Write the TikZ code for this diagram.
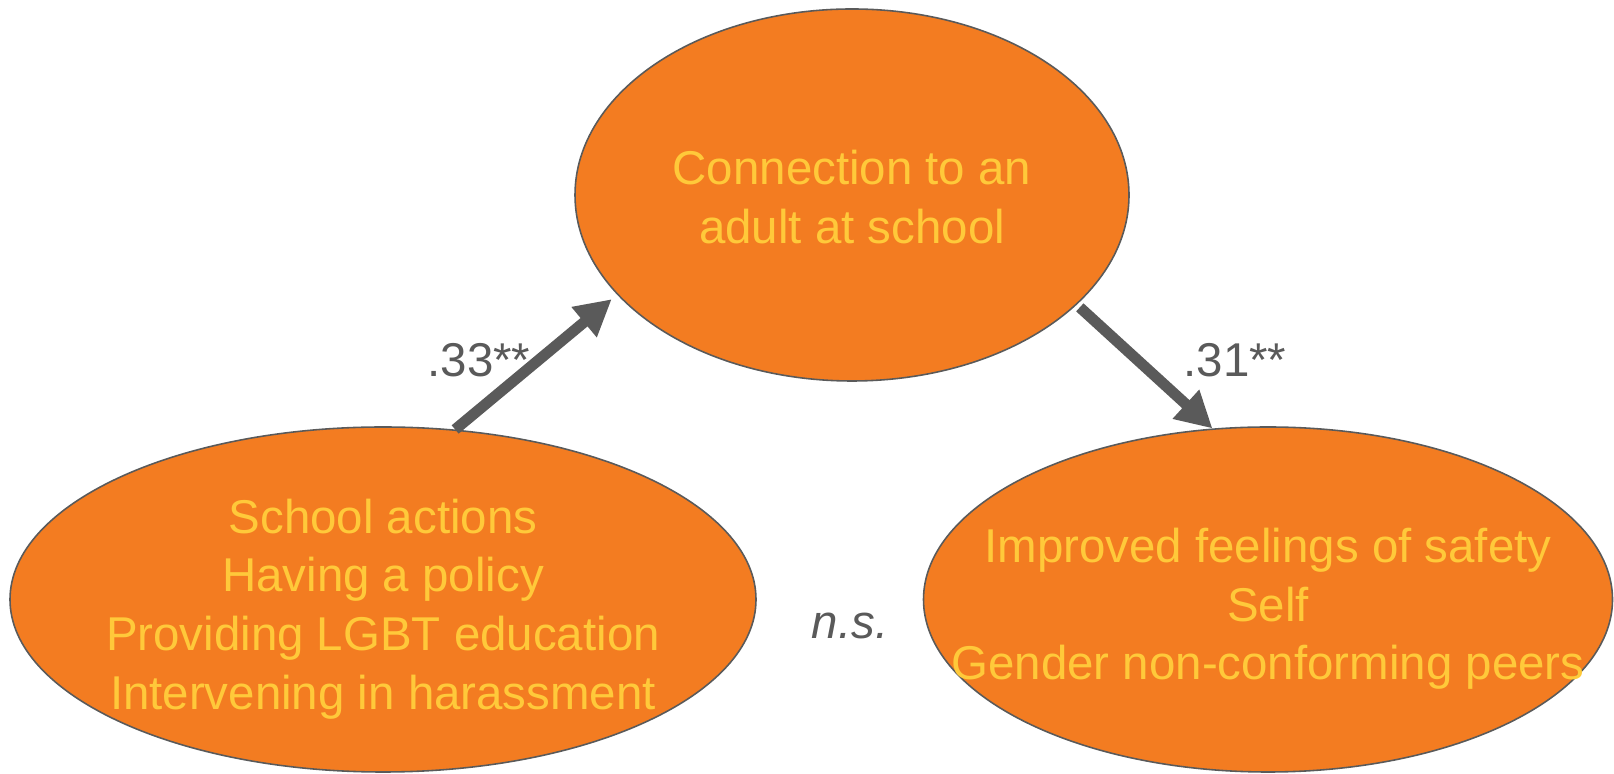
\documentclass[tikz,border=0pt]{standalone}
\usepackage{fontspec}
\setmainfont{Liberation Sans}
\usetikzlibrary{positioning,shapes.geometric,arrows.meta}

\definecolor{blobfill}{HTML}{F37C21}
\definecolor{blobtext}{HTML}{FFC93A}
\definecolor{pathgray}{HTML}{5A5A5A}

\begin{document}
\begin{tikzpicture}[
  blob/.style={ellipse, fill=blobfill, draw=pathgray, line width=0.45pt, inner sep=0pt},
  txt/.style={text=blobtext, align=center, font=\fontsize{13.5}{16.7}\selectfont},
  coef/.style={text=pathgray, font=\fontsize{13.5}{16.7}\selectfont},
  path/.style={draw=pathgray, line width=3.1pt, -{Triangle[length=0.36cm, width=0.37cm]}}
]
\useasboundingbox (0,0) rectangle (16.14,7.74);

\def\xa{3.83};
\def\xb{8.52};
\def\xc{12.68};

\def\ya{5.79};
\def\yb{1.745};

% the three ovals
\node(adult)[blob, minimum width=5.54cm, minimum height=3.72cm] at (\xb, \ya) {};
\node(school)[blob, minimum width=7.46cm, minimum height=3.45cm] at (\xa, \yb) {};
\node(safety)[blob, minimum width=6.89cm, minimum height=3.45cm] at (\xc, \yb) {};

\node(adulttxt)[txt] at (\xb, 5.77) {Connection to an\\adult at school};
\node(schooltxt)[txt] at (\xa, 1.65) {School actions\\Having a policy\\Providing LGBT education\\Intervening in harassment};
\node(safetytxt)[txt] at (\xc, 1.65) {Improved feelings of safety\\Self\\Gender non-conforming peers};

% paths
\draw[path, shorten >=0.07cm] (school.67) -- (adult.203);
\draw[path, shorten <=0.04cm] (adult.334) -- (safety.108);

\node(ab)[coef] at (4.79, 4.14) {.33**};
\node(bc)[coef] at (12.35, 4.14) {.31**};
\node(ac)[coef] at (8.50, 1.48) {\itshape n.s.};

\end{tikzpicture}
\end{document}
